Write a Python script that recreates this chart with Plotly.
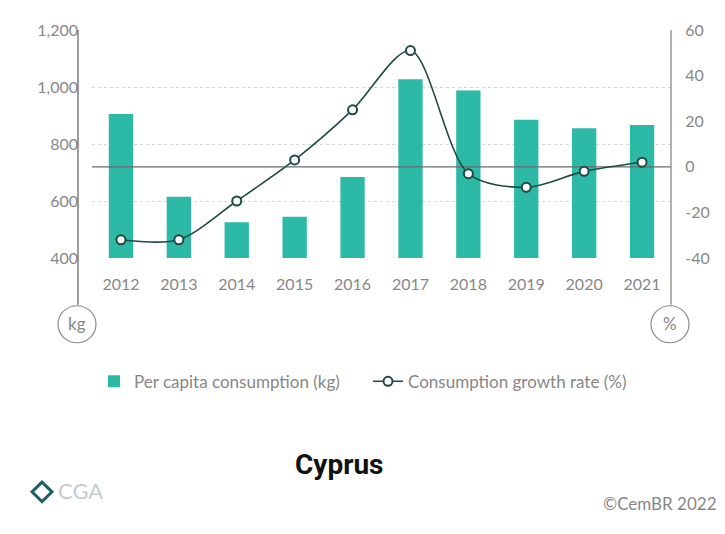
import plotly.graph_objects as go

years = [2012, 2013, 2014, 2015, 2016, 2017, 2018, 2019, 2020, 2021]
per_capita_kg = [905, 615, 525, 545, 684, 1027, 988, 885, 855, 867]
growth_pct = [-32, -32, -15, 3, 25, 51, -3, -9, -2, 2]

left_ticks = [400, 600, 800, 1000, 1200]
right_ticks = [-40, -20, 0, 20, 40, 60]

TEAL = "#2cb9a6"
DARK = "#1f4a43"
GREY = "#878787"
FONT = "Lato, sans-serif"

# the page body adds an 8px margin, so the figure is shifted by that much
OFF = 8
W, H = 725 - OFF, 534 - OFF
L, T = 78 - OFF, 24 - OFF
PW, PH = 593, 234
R, B = W - L - PW, H - T - PH


def px(x):
    # reference-picture x pixel -> paper
    return (x - 78) / PW


def py(y):
    # reference-picture y pixel -> paper
    return (258 - y) / PH


fig = go.Figure()
fig.add_bar(x=years, y=per_capita_kg, name="Per capita consumption (kg)",
            marker_color=TEAL, marker_line_width=0, width=0.42)
fig.add_scatter(x=[years[0] - 0.5, years[-1] + 0.5], y=[0, 0], yaxis="y2", mode="lines",
                line=dict(color="#6a6a6a", width=1.3), showlegend=False, hoverinfo="skip")
fig.add_scatter(x=years, y=growth_pct, yaxis="y2", name="Consumption growth rate (%)",
                mode="lines+markers", line=dict(color=DARK, width=1.6, shape="spline", smoothing=0.85),
                marker=dict(size=9, color="white", line=dict(color=DARK, width=2)))

shapes = [
    # axis lines ending in unit circles
    dict(type="line", xref="paper", yref="paper", x0=px(78), x1=px(78), y0=py(24), y1=py(306),
         line=dict(color="#6a6a6a", width=1.3)),
    dict(type="line", xref="paper", yref="paper", x0=px(671), x1=px(671), y0=py(24), y1=py(306),
         line=dict(color="#8a8a8a", width=1.3)),
    dict(type="circle", xref="paper", yref="paper", x0=px(58), x1=px(96), y0=py(345), y1=py(307),
         line=dict(color="#8a8a8a", width=1.2)),
    dict(type="circle", xref="paper", yref="paper", x0=px(651), x1=px(689), y0=py(345), y1=py(307),
         line=dict(color="#8a8a8a", width=1.2)),
    # logo diamond
    dict(type="path", xref="paper", yref="paper",
         path="M {} {} L {} {} L {} {} L {} {} Z".format(px(32), py(498), px(42), py(488),
                                                       px(52), py(498), px(42), py(508)),
         line=dict(color="#1f5f66", width=3)),
]


def note(text, x, y, size=17, color=GREY, family=FONT, xanchor="center"):
    return dict(text=text, x=px(x), y=py(y), xref="paper", yref="paper", showarrow=False,
                xanchor=xanchor, yanchor="middle", font=dict(family=family, size=size, color=color))


annotations = [
    note("kg", 77, 325),
    note("%", 670, 325),
    note("<b>Cyprus</b>", 339, 470, size=28, color="#111111", family="Roboto, sans-serif"),
    note("©CemBR 2022", 719, 510, xanchor="right"),
    note("CGA", 56, 497, size=22, color="#c4ccd0", xanchor="left"),
]

fig.update_layout(
    width=W, height=H,
    margin=dict(l=L, r=R, t=T, b=B),
    paper_bgcolor="white", plot_bgcolor="rgba(0,0,0,0)",
    font=dict(family=FONT, size=16, color=GREY),
    showlegend=True,
    legend=dict(orientation="h", x=px(94), y=py(385), xanchor="left", yanchor="middle",
                font=dict(family=FONT, size=17, color=GREY), entrywidth=229, entrywidthmode="pixels",
                bgcolor="rgba(0,0,0,0)"),
    xaxis=dict(domain=[px(92), 1], range=[years[0] - 0.5, years[-1] + 0.5], tickvals=years,
               showgrid=False, zeroline=False, showline=False, ticks="outside", ticklen=12,
               tickcolor="rgba(0,0,0,0)", tickfont=dict(size=16, color=GREY)),
    yaxis=dict(range=[400, 1200], tickvals=left_ticks, tickformat=",", anchor="free", position=0,
               showgrid=True, gridcolor="#d4d4d4", griddash="dot", gridwidth=1,
               zeroline=False, showline=False, ticks="", tickfont=dict(size=16, color=GREY)),
    yaxis2=dict(range=[-40, 60], tickvals=right_ticks, ticktext=[str(v) for v in right_ticks],
                overlaying="y", side="right", anchor="x",
                showgrid=False, zeroline=False, showline=False, ticks="outside", ticklen=10,
                tickcolor="rgba(0,0,0,0)", tickfont=dict(size=16, color=GREY)),
    shapes=shapes,
    annotations=annotations,
)

fig.write_html("out.html")
